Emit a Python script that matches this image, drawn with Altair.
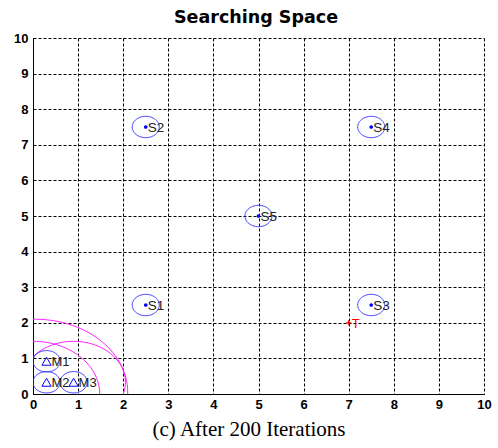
import numpy as np
import pandas as pd
import altair as alt

# Static sensors: position and sensing radius
sensor_names = ["S1", "S2", "S3", "S4", "S5"]
sensor_x = [2.5, 2.5, 7.5, 7.5, 5.0]
sensor_y = [2.5, 7.5, 2.5, 7.5, 5.0]
sensor_r = [0.3, 0.3, 0.3, 0.3, 0.3]

# Mobile nodes: position and sensing radius
mobile_names = ["M1", "M2", "M3"]
mobile_x = [0.3, 0.3, 0.9]
mobile_y = [0.92, 0.33, 0.33]
mobile_r = [0.3, 0.3, 0.3]

# Communication ranges of the mobile group
range_x = [0.05, 0.0, 0.9]
range_y = [0.05, 0.0, 0.33]
range_r = [2.05, 1.48, 1.15]

# Target
target_name = ["T"]
target_x = [7.0]
target_y = [2.0]

chart_title = ["Searching Space"]


def ring_table(cx, cy, rr, prefix):
    """Outline points for each circle (center + radius), in data units."""
    ang = np.linspace(0, 2 * np.pi, 121)
    rows = []
    for i, (x0, y0, r) in enumerate(zip(cx, cy, rr)):
        for k, a in enumerate(ang):
            rows.append({"id": f"{prefix}{i}", "k": k,
                         "x": x0 + r * np.cos(a), "y": y0 + r * np.sin(a)})
    return pd.DataFrame(rows)


blue_rings = pd.concat([
    ring_table(sensor_x, sensor_y, sensor_r, "s"),
    ring_table(mobile_x, mobile_y, mobile_r, "m"),
])
pink_rings = ring_table(range_x, range_y, range_r, "c")

sensors = pd.DataFrame({"name": sensor_names, "x": sensor_x, "y": sensor_y})
mobiles = pd.DataFrame({"name": mobile_names, "x": mobile_x, "y": mobile_y})
target = pd.DataFrame({"name": target_name, "x": target_x, "y": target_y})
title_df = pd.DataFrame({"t": chart_title})

xs = alt.Scale(domain=[0, 10], nice=False, zero=False)
ys = alt.Scale(domain=[0, 10], nice=False, zero=False)

x_axis = alt.Axis(
    values=list(range(0, 11)), format="d", grid=True, ticks=False,
    labelFont="Liberation Sans", labelFontWeight="bold", labelFontSize=13,
    labelColor="black", labelPadding=4, labelFlush=False,
    domainColor="black", domainWidth=1,
    gridColor="black", gridDash=[3, 2], gridWidth=1, gridOpacity=1,
    title="(c) After 200 Iterations", titleFont="Liberation Serif",
    titleFontWeight="normal", titleFontSize=21, titleColor="black",
    titleX=215.5, titleY=41, titleBaseline="alphabetic", titleAlign="center",
)
y_axis = alt.Axis(
    values=list(range(0, 11)), format="d", grid=True, ticks=False,
    labelFont="Liberation Sans", labelFontWeight="bold", labelFontSize=13,
    labelColor="black", labelPadding=5, labelFlush=False,
    domainColor="black", domainWidth=1,
    gridColor="black", gridDash=[3, 2], gridWidth=1, gridOpacity=1,
    title=None,
)

X = alt.X("x:Q", scale=xs, axis=x_axis)
Y = alt.Y("y:Q", scale=ys, axis=y_axis)

pink = alt.Chart(pink_rings).mark_line(
    color="#ff22ff", strokeWidth=1, clip=True
).encode(x=X, y=Y, detail="id:N", order="k:Q")

blue = alt.Chart(blue_rings).mark_line(
    color="#3030ff", strokeWidth=1, clip=True
).encode(x=X, y=Y, detail="id:N", order="k:Q")

sensor_dots = alt.Chart(sensors).mark_point(
    shape="circle", filled=True, color="#0000ff", size=14, opacity=1
).encode(x=X, y=Y)
sensor_text = alt.Chart(sensors).mark_text(
    align="left", baseline="middle", dx=2, dy=1, font="Liberation Sans",
    fontSize=13.5, color="#222222"
).encode(x=X, y=Y, text="name:N")

mobile_tri = alt.Chart(mobiles).mark_point(
    shape="triangle-up", filled=False, color="#0000ff", size=85,
    strokeWidth=1, opacity=1
).encode(x=X, y=Y)
mobile_text = alt.Chart(mobiles).mark_text(
    align="left", baseline="middle", dx=5, dy=1, font="Liberation Sans",
    fontSize=13, color="#222222"
).encode(x=X, y=Y, text="name:N")

target_plus = alt.Chart(target).mark_point(
    shape="M-1,0L1,0M0,-1L0,1", filled=False, color="#ff0000", size=30,
    strokeWidth=1, opacity=1
).encode(x=X, y=Y)
target_dot = alt.Chart(target).mark_point(
    shape="circle", filled=True, color="#ff0000", size=8, opacity=1
).encode(x=X, y=Y)
target_text = alt.Chart(target).mark_text(
    align="left", baseline="middle", dx=3, dy=1, font="Liberation Sans",
    fontSize=13, color="#ff0000"
).encode(x=X, y=Y, text="name:N")

# Chart heading placed above the plot area
heading = alt.Chart(title_df).mark_text(
    align="center", baseline="alphabetic", font="DejaVu Sans",
    fontSize=17.5, fontWeight="bold", color="black"
).encode(x=alt.value(223), y=alt.value(-15), text="t:N")

chart = alt.layer(
    pink, blue, sensor_dots, sensor_text, mobile_tri, mobile_text,
    target_plus, target_dot, target_text, heading,
).properties(
    width=451, height=356,
    autosize=alt.AutoSizeParams(type="none"),
    padding={"left": 33, "top": 38, "right": 14, "bottom": 54},
    background="white",
).configure_view(stroke=None)

chart.save("out.html", embed_options={"renderer": "svg", "actions": False})
